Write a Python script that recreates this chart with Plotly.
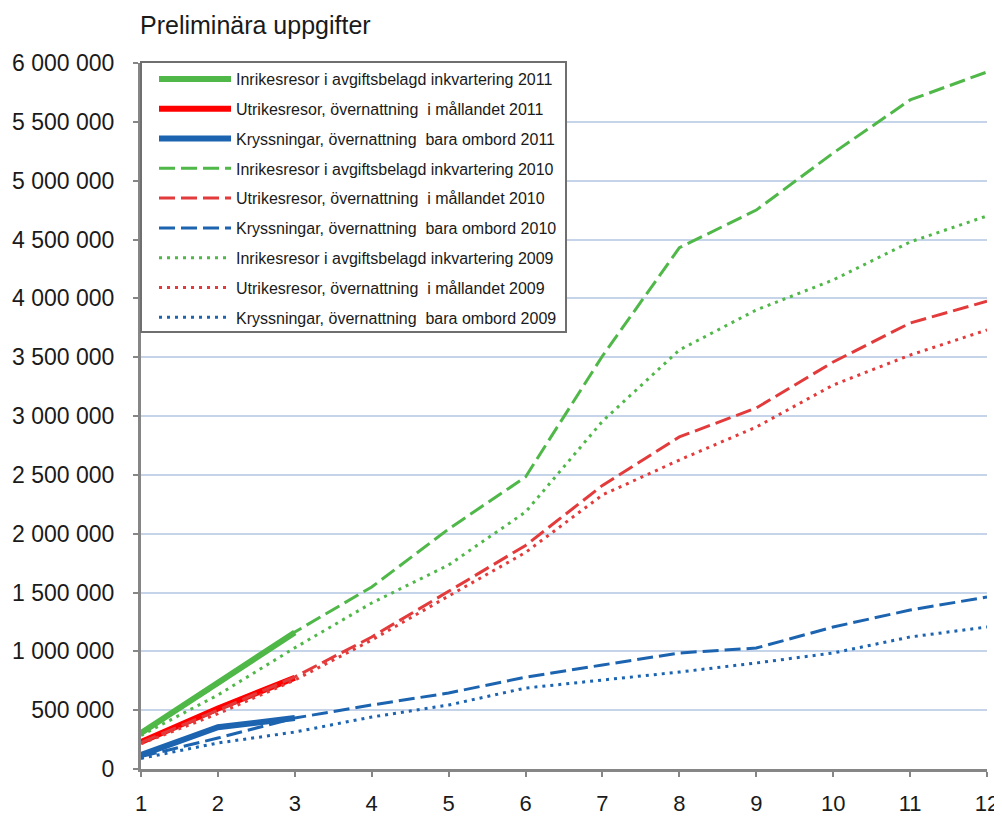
import plotly.graph_objects as go

months = list(range(1, 13))
x_2011 = [1, 2, 3]

inr_2011 = [306000, 740000, 1160000]
utr_2011 = [230000, 515000, 775000]
kry_2011 = [120000, 355000, 433000]

inr_2010 = [300000, 720000, 1164000, 1547000, 2040000, 2482000, 3510000, 4430000, 4750000, 5235000, 5686000, 5924000]
utr_2010 = [225000, 500000, 782000, 1122000, 1510000, 1900000, 2410000, 2822000, 3068000, 3459000, 3790000, 3975000]
kry_2010 = [105000, 263000, 433000, 544000, 646000, 780000, 884000, 986000, 1028000, 1207000, 1351000, 1462000]

inr_2009 = [285000, 629000, 1030000, 1411000, 1734000, 2184000, 2955000, 3561000, 3901000, 4156000, 4479000, 4700000]
utr_2009 = [215000, 470000, 756000, 1096000, 1470000, 1840000, 2329000, 2626000, 2906000, 3263000, 3518000, 3731000]
kry_2009 = [90000, 221000, 314000, 442000, 544000, 688000, 756000, 824000, 901000, 986000, 1122000, 1207000]

names = [
    "Inrikesresor i avgiftsbelagd inkvartering 2011",
    "Utrikesresor, övernattning  i mållandet 2011",
    "Kryssningar, övernattning  bara ombord 2011",
    "Inrikesresor i avgiftsbelagd inkvartering 2010",
    "Utrikesresor, övernattning  i mållandet 2010",
    "Kryssningar, övernattning  bara ombord 2010",
    "Inrikesresor i avgiftsbelagd inkvartering 2009",
    "Utrikesresor, övernattning  i mållandet 2009",
    "Kryssningar, övernattning  bara ombord 2009",
]

ytickvals = [i * 500000 for i in range(13)]
yticktext = ["0", "500 000", "1 000 000", "1 500 000", "2 000 000", "2 500 000", "3 000 000",
             "3 500 000", "4 000 000", "4 500 000", "5 000 000", "5 500 000", "6 000 000"]

GREEN = "#4FB848"
RED = "#FF0000"
RED2 = "#E33B3B"
BLUE = "#1C64B0"

series = [
    (x_2011, inr_2011, GREEN, "solid", 6),
    (x_2011, utr_2011, RED, "solid", 6),
    (x_2011, kry_2011, BLUE, "solid", 6),
    (months, inr_2010, GREEN, "16px,6px", 3),
    (months, utr_2010, RED2, "16px,6px", 3),
    (months, kry_2010, BLUE, "16px,6px", 3),
    (months, inr_2009, GREEN, "3px,5px", 3),
    (months, utr_2009, RED2, "3px,5px", 3),
    (months, kry_2009, BLUE, "3px,5px", 3),
]

fig = go.Figure()
for i, (xs, ys, col, dash, w) in enumerate(series):
    fig.add_trace(go.Scatter(
        x=xs, y=ys, mode="lines", name=names[i], legendgroup=f"g{i}",
        line=dict(color=col, dash=dash, width=w),
    ))

FONT = "Liberation Sans, Arial, sans-serif"

# page body has an 8px margin, so the figure is offset by 8px
W, H = 994, 808
PL, PT, PR, PB = 133, 55, 15, 47
plot_w = W - PL - PR
plot_h = H - PT - PB

def px_x(p):  # page pixel -> paper x
    return (p - 8 - PL) / plot_w

def px_y(p):  # page pixel -> paper y
    return 1 - (p - 8 - PT) / plot_h

fig.add_shape(type="rect", xref="paper", yref="paper",
              x0=px_x(141), x1=px_x(566), y0=px_y(332), y1=px_y(62),
              line=dict(color="#6F6F6F", width=2), fillcolor="white", layer="above")

fig.update_layout(
    width=W, height=H,
    margin=dict(l=PL, r=PR, t=PT, b=PB, autoexpand=False),
    paper_bgcolor="white", plot_bgcolor="white",
    font=dict(family=FONT, size=20, color="#1a1a1a"),
    title=dict(text="Preliminära uppgifter", x=132 / W, xanchor="left",
               y=1 - 17 / H, yanchor="middle", xref="container", yref="container",
               font=dict(family=FONT, size=25, color="#1a1a1a")),
    showlegend=True,
    legend=dict(
        x=px_x(154), y=px_y(62), xanchor="left", yanchor="top",
        bgcolor="rgba(0,0,0,0)", borderwidth=0,
        font=dict(family=FONT, size=16, color="#1a1a1a"),
        itemwidth=72, tracegroupgap=6, traceorder="grouped",
    ),
    xaxis=dict(
        range=[1, 12], tickvals=months, ticks="outside", ticklen=5, tickwidth=2,
        tickcolor="#868686", showline=True, linecolor="#868686", linewidth=3,
        showgrid=False, zeroline=False, ticklabelstandoff=8, automargin=False,
        tickfont=dict(family=FONT, size=22, color="#1a1a1a"),
    ),
    yaxis=dict(
        range=[0, 6000000], tickvals=ytickvals, ticktext=yticktext,
        ticks="outside", ticklen=5, tickwidth=2, tickcolor="#868686",
        showline=True, linecolor="#868686", linewidth=3,
        showgrid=True, gridcolor="#C6D4EA", gridwidth=2, zeroline=False,
        ticklabelstandoff=14, automargin=False,
        tickfont=dict(family=FONT, size=23, color="#1a1a1a"),
    ),
)

fig.write_html("out.html")
